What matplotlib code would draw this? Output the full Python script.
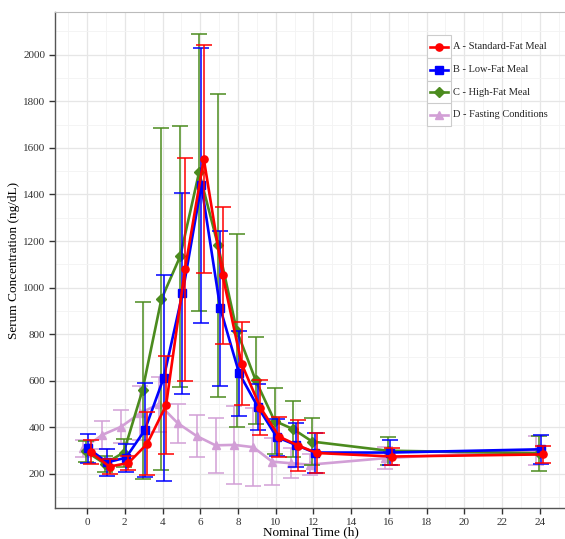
import matplotlib
matplotlib.use("Agg")
import matplotlib.pyplot as plt
import numpy as np
from matplotlib.lines import Line2D
from matplotlib.patches import Rectangle

# ---- data ----
time_h = [0, 1, 2, 3, 4, 5, 6, 7, 8, 9, 10, 11, 12, 16, 24]

a_mean = [293, 232, 247, 330, 495, 1078, 1552, 1052, 674, 485, 360, 322, 290, 275, 284]
a_sd   = [52, 34, 32, 136, 210, 480, 490, 295, 178, 118, 86, 110, 86, 38, 36]

b_mean = [310, 250, 270, 388, 612, 975, 1440, 912, 633, 487, 358, 325, 292, 292, 306]
b_sd   = [62, 58, 60, 203, 440, 430, 590, 333, 182, 100, 80, 95, 86, 53, 62]

c_mean = [297, 244, 292, 560, 950, 1135, 1495, 1182, 815, 602, 428, 392, 339, 300, 289]
c_sd   = [45, 35, 60, 380, 735, 560, 595, 650, 414, 188, 142, 120, 100, 60, 75]

d_mean = [310, 368, 403, 461, 500, 418, 363, 323, 325, 315, 253, 246, 240, 268, 302]
d_sd   = [38, 60, 70, 115, 118, 83, 90, 118, 168, 168, 100, 65, 45, 48, 62]

labels = ["A - Standard-Fat Meal", "B - Low-Fat Meal", "C - High-Fat Meal", "D - Fasting Conditions"]
x_ticks = [0, 2, 4, 6, 8, 10, 12, 14, 16, 18, 20, 22, 24]
y_ticks = [200, 400, 600, 800, 1000, 1200, 1400, 1600, 1800, 2000]

colors = ["#FF0000", "#0000FF", "#4B8B1E", "#D29FD6"]
markers = ["o", "s", "D", "^"]
offsets = [0.19, 0.06, -0.06, -0.19]
msizes = [5.2, 5.2, 4.8, 5.8]

serif = "Liberation Serif"
plt.rcParams["font.family"] = [serif, "DejaVu Serif"]

fig = plt.figure(figsize=(5.65, 5.39), dpi=100)
ax = fig.add_axes([55 / 565, 1 - 508 / 539, 1 - 55 / 565 + 0.002, (508 - 12) / 539])

series = [(a_mean, a_sd), (b_mean, b_sd), (c_mean, c_sd), (d_mean, d_sd)]
t = np.array(time_h, dtype=float)
order = [3, 2, 1, 0]
for i in order:
    m, s = series[i]
    ax.errorbar(t + offsets[i], m, yerr=s, color=colors[i], marker=markers[i],
                markersize=msizes[i], linewidth=1.9, elinewidth=1.1, capsize=5.5,
                capthick=1.1, zorder=3 + (3 - i))

ax.set_xlim(-1.70, 25.4)
ax.set_ylim(54, 2183)
ax.set_xticks(x_ticks)
ax.set_yticks(y_ticks)
ax.set_xticks(np.arange(-1, 26, 2), minor=True)
ax.set_yticks(np.arange(100, 2200, 200), minor=True)
ax.tick_params(axis="both", which="major", labelsize=8, length=4, width=1,
               color="#333333", labelcolor="#333333", direction="out", pad=3)
ax.tick_params(axis="both", which="minor", length=0)
ax.grid(True, which="major", color="#E6E6E6", linewidth=0.9)
ax.grid(True, which="minor", color="#F3F3F3", linewidth=0.6)
ax.set_axisbelow(True)
for sp in ["left", "bottom"]:
    ax.spines[sp].set_color("#555555")
    ax.spines[sp].set_linewidth(1.0)
ax.spines["top"].set_color("#BBBBBB")
ax.spines["top"].set_linewidth(0.8)
ax.spines["right"].set_visible(False)

ax.set_xlabel("Nominal Time (h)", fontsize=9.5, labelpad=0)
ax.set_ylabel("Serum Concentration (ng/dL)", fontsize=9.5, labelpad=2)

# ---- legend drawn manually in figure pixels ----
W, H = 565, 539
row_centers = [46.5, 69.5, 92.5, 114.5]
key_left, key_w, key_h = 427, 24, 22
for i, yc in enumerate(row_centers):
    fig.patches.append(Rectangle((key_left / W, 1 - (yc + key_h / 2) / H), key_w / W, key_h / H,
                                 transform=fig.transFigure, facecolor="white",
                                 edgecolor="#CCCCCC", linewidth=0.8, zorder=10))
    fig.lines.append(Line2D([(key_left + 3) / W, (key_left + key_w - 3) / W],
                            [1 - yc / H, 1 - yc / H], transform=fig.transFigure,
                            color=colors[i], linewidth=1.9, zorder=11))
    fig.lines.append(Line2D([(key_left + key_w / 2) / W], [1 - yc / H],
                            transform=fig.transFigure, color=colors[i],
                            marker=markers[i], markersize=msizes[i], zorder=12))
    fig.text(453 / W, 1 - yc / H, labels[i], fontsize=7.5, va="center", ha="left",
             color="#222222", zorder=12)

fig.savefig("out.png", dpi=100)
